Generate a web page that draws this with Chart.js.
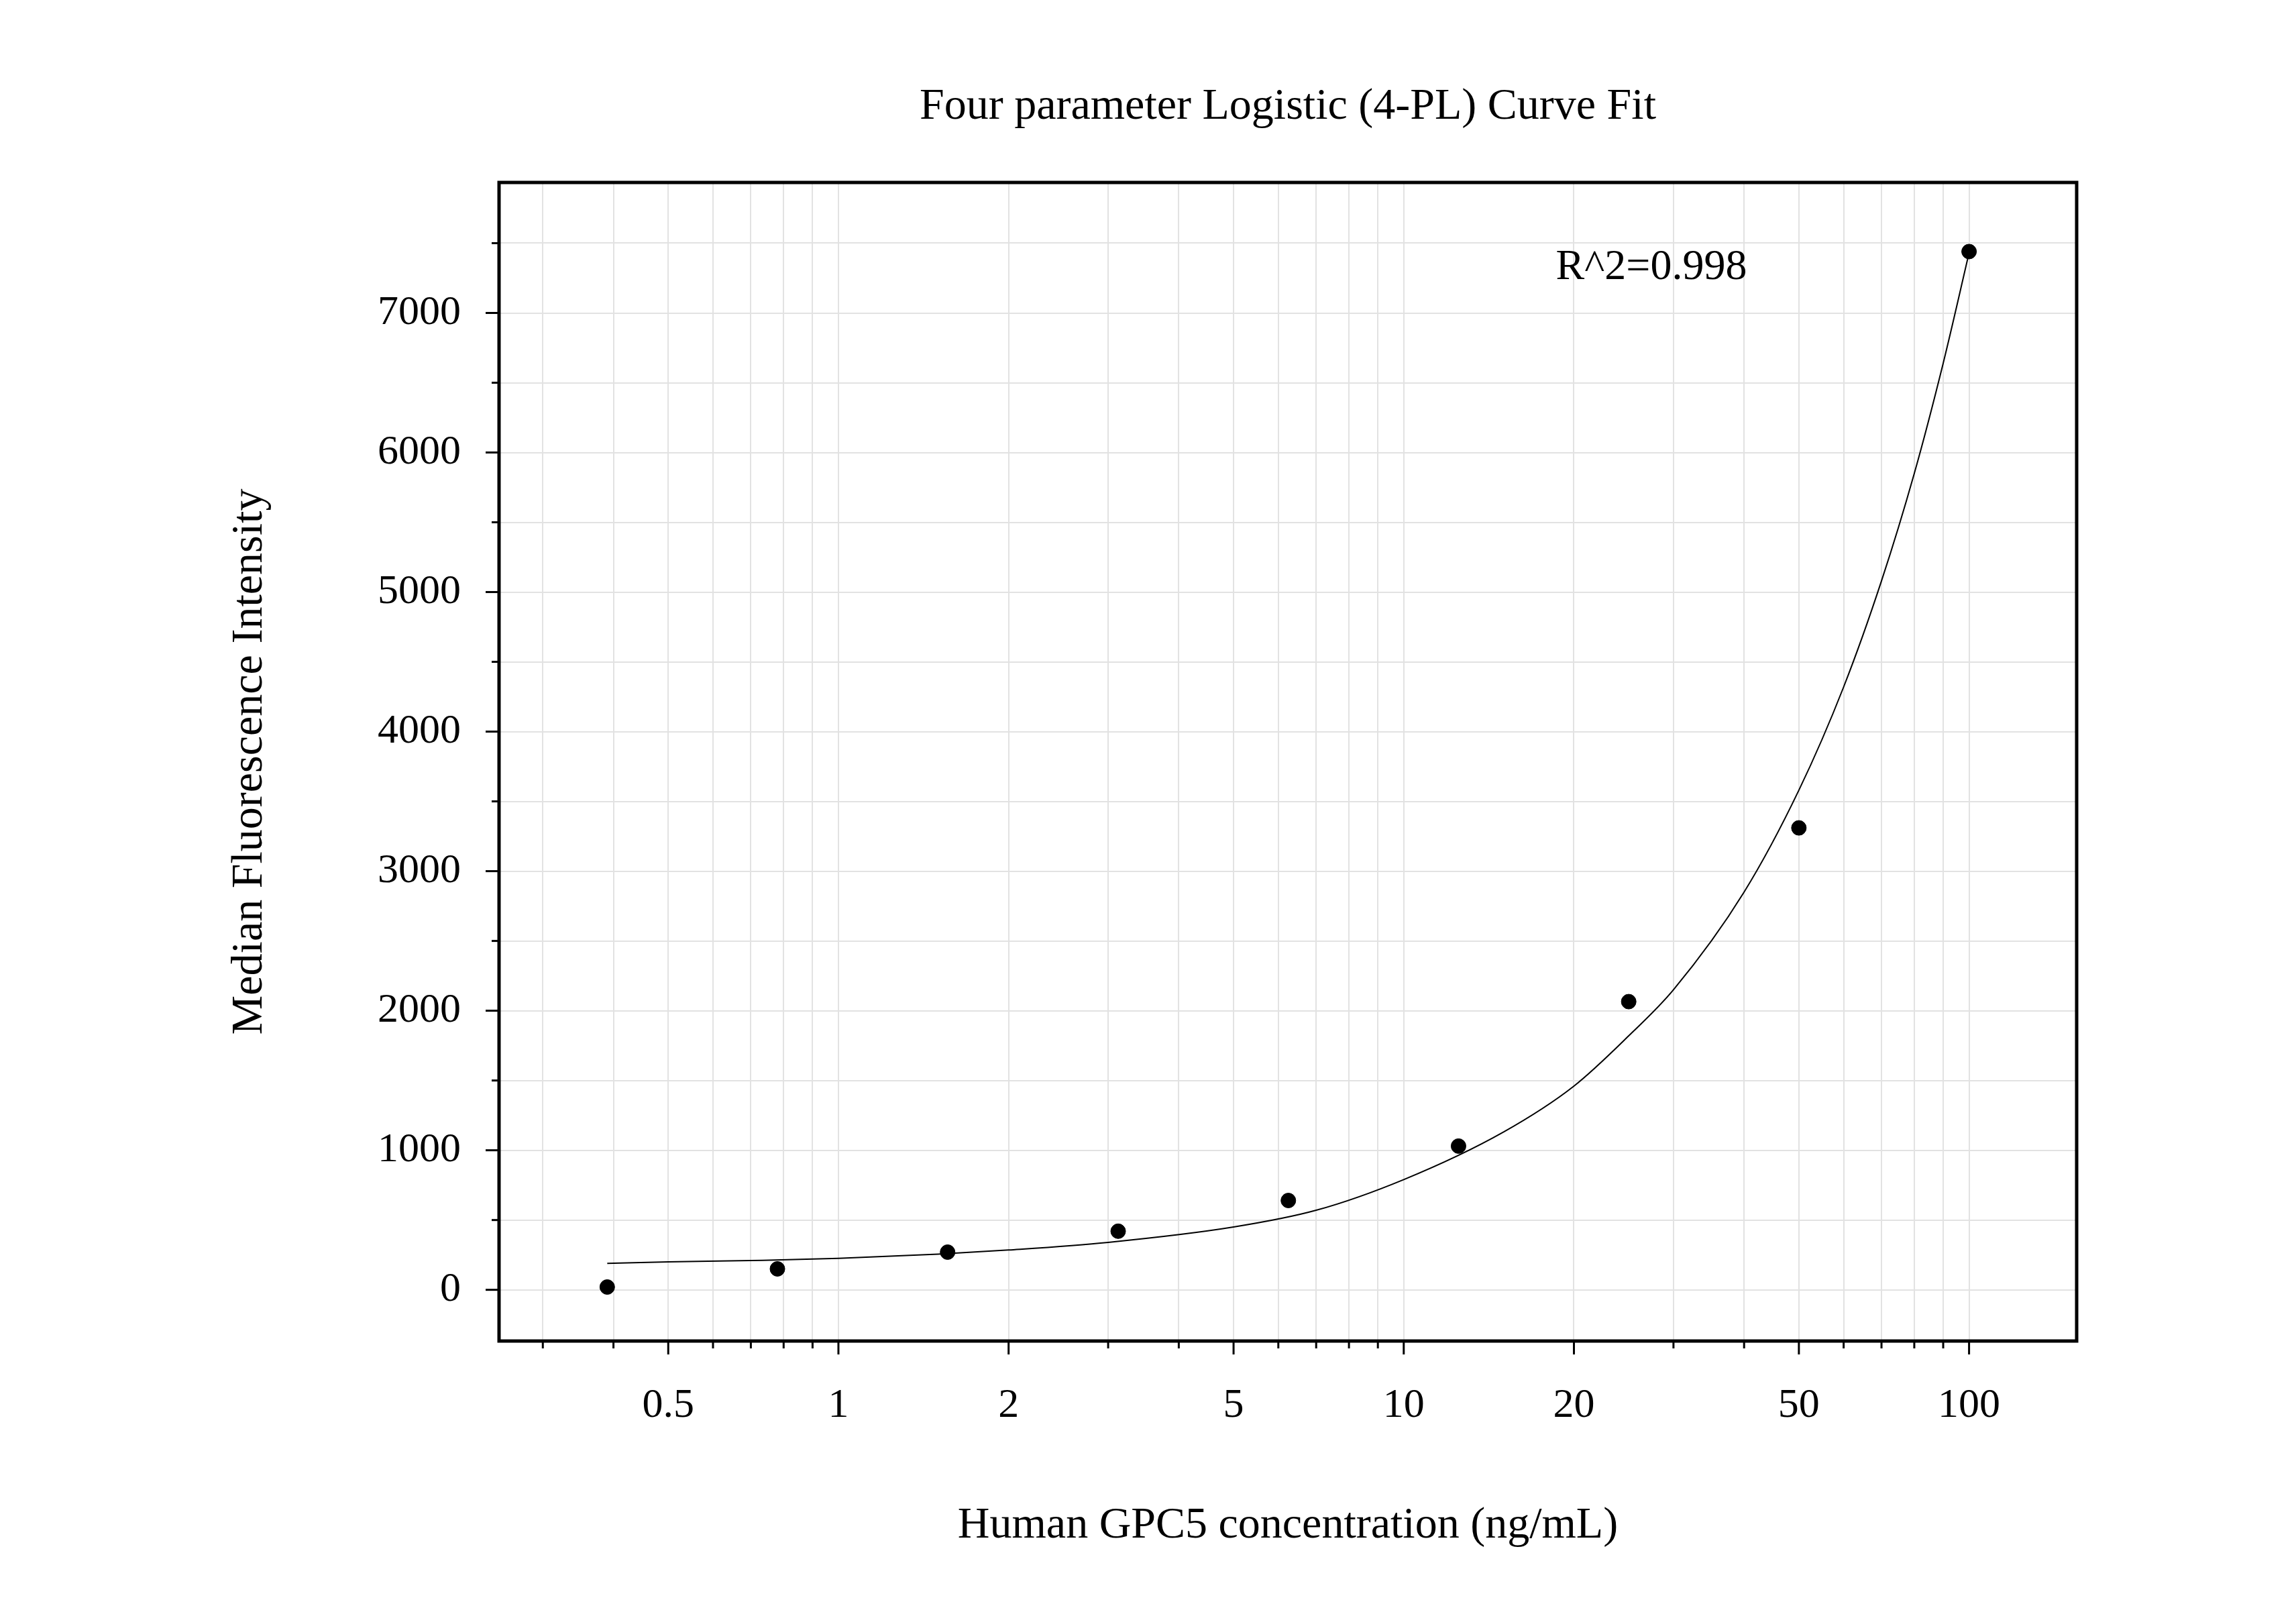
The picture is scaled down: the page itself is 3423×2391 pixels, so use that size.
<!DOCTYPE html>
<html><head><meta charset="utf-8">
<script src="https://cdn.jsdelivr.net/npm/chart.js@4"></script>
<style>html,body{margin:0;padding:0;background:#fff}#w{width:3423px;height:2391px}</style>
</head><body><div id="w"><canvas id="c"></canvas></div>
<script>
const concentrations=[0.39,0.78,1.56,3.125,6.25,12.5,25,50,100];
const mfi=[20,150,270,420,640,1030,2065,3310,7440];
const curveX=[0.39,0.5,0.7,1,1.5,2,3,5,7,10,15,20,25,30,40,50,60,70,80,90,100];
const curveY=[190,200,210,225,255,285,340,450,570,790,1130,1460,1820,2150,2850,3580,4320,5080,5850,6640,7430];
const xLabels=[0.5,1,2,5,10,20,50,100];
const yLabels=[0,1000,2000,3000,4000,5000,6000,7000];
const FONT='"Liberation Serif", "Times New Roman", serif';
const xTicks=[];[0.1,1,10,100].forEach(d=>{for(let i=1;i<10;i++){const v=+(d*i).toPrecision(3);if(v>=0.3&&v<=150)xTicks.push(v);}});
const deco={id:'deco',afterDraw(ch){const c=ch.ctx,a=ch.chartArea,xs=ch.scales.x,ys=ch.scales.y;c.save();
c.strokeStyle='#000';c.lineWidth=3;
xTicks.forEach(v=>{const p=xs.getPixelForValue(v);const L=(v===1||v===10||v===100||xLabels.includes(v))?20:11;c.beginPath();c.moveTo(p,a.bottom);c.lineTo(p,a.bottom+L);c.stroke();});
for(let v=0;v<=7500;v+=500){const p=ys.getPixelForValue(v);const L=v%1000===0?20:11;c.beginPath();c.moveTo(a.left,p);c.lineTo(a.left-L,p);c.stroke();}
c.lineWidth=5;c.strokeRect(a.left,a.top,a.right-a.left,a.bottom-a.top);
c.fillStyle='#000';c.textAlign='center';c.textBaseline='middle';
c.font='66px '+FONT;c.fillText('Four parameter Logistic (4-PL) Curve Fit',(a.left+a.right)/2,160);
c.font='66px '+FONT;c.fillText('Human GPC5 concentration (ng/mL)',(a.left+a.right)/2,2275);
c.font='64px '+FONT;c.fillText('R^2=0.998',2462,399);
c.font='66px '+FONT;
c.translate(373,(a.top+a.bottom)/2);c.rotate(-Math.PI/2);c.fillText('Median Fluorescence Intensity',0,0);
c.restore();}};
new Chart(document.getElementById('c'),{
data:{datasets:[
{type:'line',data:curveX.map((x,i)=>({x,y:curveY[i]})),borderColor:'#000',borderWidth:2,pointRadius:0,cubicInterpolationMode:'monotone',fill:false},
{type:'scatter',data:concentrations.map((x,i)=>({x,y:mfi[i]})),backgroundColor:'#000',borderColor:'#000',pointRadius:11}]},
options:{responsive:true,maintainAspectRatio:false,animation:false,
layout:{padding:{top:272,right:327,left:0,bottom:0}},
plugins:{legend:{display:false},tooltip:{enabled:false}},
scales:{
x:{type:'logarithmic',min:0.251,max:155,
afterBuildTicks(s){s.ticks=xTicks.map(v=>({value:v}));},
afterFit(s){s.height=392;},
grid:{color:'#e2e2e2',lineWidth:2,drawTicks:false},border:{display:false},
ticks:{autoSkip:false,maxRotation:0,padding:60,color:'#000',font:{family:FONT,size:62},callback:(v)=>xLabels.includes(+(+v).toPrecision(3))?String(+(+v).toPrecision(3)):''}},
y:{min:-367,max:7935,
afterBuildTicks(s){const t=[];for(let v=0;v<=7500;v+=500)t.push({value:v});s.ticks=t;},
afterFit(s){s.width=744;},
grid:{color:'#e2e2e2',lineWidth:2,drawTicks:false},border:{display:false},
ticks:{autoSkip:false,padding:57,color:'#000',font:{family:FONT,size:62},callback:(v)=>yLabels.includes(v)?String(v):''}}}},
plugins:[deco]});
</script></body></html>
